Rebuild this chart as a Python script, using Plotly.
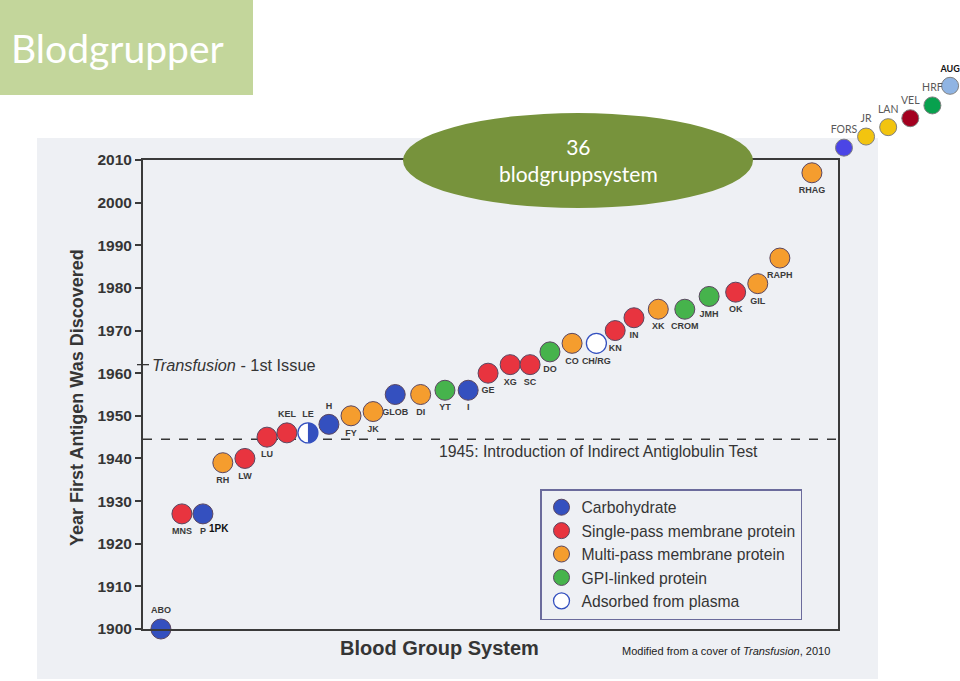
import plotly.graph_objects as go

# Blood group systems on the chart (left to right)
systems = ["ABO", "MNS", "P", "RH", "LW", "LU", "KEL", "LE", "H", "FY", "JK",
           "GLOB", "DI", "YT", "I", "GE", "XG", "SC", "DO", "CO", "CH/RG", "KN",
           "IN", "XK", "CROM", "JMH", "OK", "GIL", "RAPH", "RHAG"]
# order slot along the x axis (category units, as spaced in the picture)
slots = [0, 0.95, 1.9, 2.8, 3.8, 4.8, 5.7, 6.65, 7.6, 8.6, 9.6,
         10.6, 11.75, 12.85, 13.9, 14.8, 15.8, 16.7, 17.6, 18.6, 19.7, 20.55,
         21.4, 22.5, 23.7, 24.8, 26.0, 27.0, 28.0, 29.45]
years = [1900, 1927, 1927, 1939, 1940, 1945, 1946, 1946, 1948, 1950, 1951,
         1955, 1955, 1956, 1956, 1960, 1962, 1962, 1965, 1967, 1967, 1970,
         1973, 1975, 1975, 1978, 1979, 1981, 1987, 2007]
antigen_type = ["carb", "single", "carb", "multi", "single", "single", "single", "carb+plasma",
                "carb", "multi", "multi", "carb", "multi", "gpi", "carb", "single",
                "single", "single", "gpi", "multi", "plasma", "single", "single",
                "multi", "gpi", "gpi", "single", "multi", "multi", "multi"]
labels_above = ["ABO", "KEL", "LE", "H"]

# newer systems drawn outside the frame (top right of the slide)
new_systems = ["FORS", "JR", "LAN", "VEL", "HRF", "AUG"]
new_slots = [30.9, 31.9, 32.9, 33.9, 34.9, 35.7]
new_years = [2012.9, 2015.5, 2017.7, 2019.8, 2022.8, 2027.4]
new_colors = ["#4b45e6", "#f2c40f", "#f2c40f", "#a3001f", "#08a14e", "#8fb4e3"]

type_names = {
    "carb": "Carbohydrate",
    "single": "Single-pass membrane protein",
    "multi": "Multi-pass membrane protein",
    "gpi": "GPI-linked protein",
    "plasma": "Adsorbed from plasma",
}
type_colors = {
    "carb": "#3450bf",
    "single": "#e8343f",
    "multi": "#f59d2e",
    "gpi": "#46b34c",
    "plasma": "#ffffff",
}

W, H = 960, 681
# pixel frame of the plot area
PX_L, PX_R, PX_T, PX_B = 143, 838, 160, 629
X_RANGE = [-0.81, 30.63]
Y_RANGE = [1900, 2010]
px_per_slot = (PX_R - PX_L) / (X_RANGE[1] - X_RANGE[0])
px_per_year = (PX_B - PX_T) / (Y_RANGE[1] - Y_RANGE[0])


def px_x(px):
    return px / W


def px_y(py):
    return (H - py) / H


DARK = "#353535"
fig = go.Figure()

# one trace per antigen type -> legend
for key in ["carb", "single", "multi", "gpi", "plasma"]:
    idx = [i for i, t in enumerate(antigen_type) if t == key]
    fig.add_trace(go.Scatter(
        x=[slots[i] for i in idx],
        y=[years[i] for i in idx],
        mode="markers+text",
        text=[systems[i] for i in idx],
        textposition=["top center" if systems[i] in labels_above else "bottom center" for i in idx],
        textfont=dict(size=9, color="#3a3a3a", family="Liberation Sans", weight="bold"),
        marker=dict(size=20, color=type_colors[key],
                    line=dict(width=1.3 if key == "plasma" else 1,
                              color="#3450bf" if key == "plasma" else "#5a4660")),
        name=type_names[key],
        cliponaxis=False,
        hoverinfo="text",
    ))

# LE: half carbohydrate, half adsorbed from plasma
le = [i for i, t in enumerate(antigen_type) if t == "carb+plasma"]
fig.add_trace(go.Scatter(
    x=[slots[i] for i in le], y=[years[i] for i in le],
    mode="markers+text",
    text=[systems[i] for i in le],
    textposition="top center",
    textfont=dict(size=9, color="#3a3a3a", family="Liberation Sans", weight="bold"),
    marker=dict(size=20, color="#ffffff", line=dict(width=1.3, color="#3450bf")),
    showlegend=False, cliponaxis=False, hoverinfo="text",
))
r = 10
k = 0.5523 * r
for i in le:
    fig.add_shape(
        type="path", xref="x", yref="y", xsizemode="pixel", ysizemode="pixel",
        xanchor=slots[i], yanchor=years[i],
        path=f"M 0,{r} C {k},{r} {r},{k} {r},0 C {r},{-k} {k},{-r} 0,{-r} Z",
        fillcolor="#3450bf", line=dict(width=0), layer="above",
    )

# newer systems, on a second pair of axes with the same scale
fig.add_trace(go.Scatter(
    x=new_slots, y=new_years, xaxis="x2", yaxis="y2",
    mode="markers+text",
    text=new_systems[:-1] + ["<b>" + new_systems[-1] + "</b>"],
    textposition="top center",
    textfont=dict(size=[10.5] * 5 + [9], color=["#595959"] * 5 + ["#111111"], family="Lato"),
    marker=dict(size=17, color=new_colors, line=dict(width=1, color="#7f7f7f")),
    showlegend=False, cliponaxis=False, hoverinfo="text",
))

# 1PK next to P
p_i = systems.index("P")
fig.add_annotation(x=slots[p_i], y=years[p_i], text="<b>1PK</b>", showarrow=False,
                   xshift=16, yshift=-15, font=dict(size=10, color="#111111"))

shapes = [
    # scanned figure background
    dict(type="rect", xref="paper", yref="paper", x0=px_x(37), x1=px_x(878),
         y0=px_y(679), y1=px_y(138), fillcolor="#eef0f4", line=dict(width=0), layer="below"),
    # title box
    dict(type="rect", xref="paper", yref="paper", x0=0, x1=px_x(253),
         y0=px_y(95), y1=1, fillcolor="#c3d69b", line=dict(width=0), layer="above"),
    # 1945 dashed line
    dict(type="line", xref="x domain", yref="y", x0=0, x1=1, y0=1944.5, y1=1944.5,
         line=dict(color=DARK, width=1.3, dash="dash"), layer="below"),
    # Transfusion first issue tick
    dict(type="line", xref="paper", yref="y", x0=px_x(137), x1=px_x(149), y0=1962, y1=1962,
         line=dict(color=DARK, width=1.3)),
    # 36 blodgruppsystem ellipse
    dict(type="circle", xref="paper", yref="paper", x0=px_x(403), x1=px_x(753),
         y0=px_y(208), y1=px_y(113), fillcolor="#77933c", line=dict(width=0), layer="above"),
]
for s in shapes:
    fig.add_shape(**s)

annotations = [
    dict(x=px_x(9), y=px_y(48), xref="paper", yref="paper", xanchor="left", yanchor="middle",
         text="Blodgrupper", font=dict(family="Lato", size=39, color="#ffffff")),
    dict(x=px_x(578), y=px_y(160), xref="paper", yref="paper", xanchor="center", yanchor="middle",
         text="36<br>blodgruppsystem", font=dict(family="Lato", size=21, color="#ffffff")),
    dict(x=px_x(437), y=1944.5, xref="paper", yref="y", xanchor="left", yanchor="top", yshift=-2,
         text="1945: Introduction of Indirect Antiglobulin Test", font=dict(size=15.8, color=DARK)),
    dict(x=px_x(150), y=1962, xref="paper", yref="y", xanchor="left", yanchor="middle",
         text="<i>Transfusion</i> - 1st Issue", font=dict(size=16.3, color=DARK)),
    dict(x=px_x(77), y=px_y(398), xref="paper", yref="paper", xanchor="center", yanchor="middle",
         textangle=-90, text="<b>Year First Antigen Was Discovered</b>", font=dict(size=18, color=DARK)),
    dict(x=px_x(439), y=px_y(648), xref="paper", yref="paper", xanchor="center", yanchor="middle",
         text="<b>Blood Group System</b>", font=dict(size=20, color=DARK)),
    dict(x=px_x(726), y=px_y(651), xref="paper", yref="paper", xanchor="center", yanchor="middle",
         text="Modified from a cover of <i>Transfusion</i>, 2010", font=dict(size=11, color="#222222")),
]
for a in annotations:
    fig.add_annotation(showarrow=False, **a)

fig.update_layout(
    width=W, height=H,
    margin=dict(l=0, r=0, t=0, b=0),
    paper_bgcolor="#ffffff", plot_bgcolor="rgba(0,0,0,0)",
    font=dict(family="Liberation Sans, Arial, sans-serif", color=DARK),
    xaxis=dict(
        domain=[px_x(PX_L), px_x(PX_R)], range=X_RANGE, automargin=False,
        showgrid=False, zeroline=False, showticklabels=False, ticks="",
        showline=True, linewidth=2, linecolor="#3a3a3a", mirror=True,
    ),
    yaxis=dict(
        domain=[px_y(PX_B), px_y(PX_T)], range=Y_RANGE, automargin=False,
        tickvals=list(range(1900, 2011, 10)), showgrid=False, zeroline=False,
        ticks="outside", ticklen=6, tickwidth=2, tickcolor="#3a3a3a",
        tickfont=dict(size=15.5, color=DARK, weight="bold"),
        showline=True, linewidth=2, linecolor="#3a3a3a", mirror=True,
    ),
    # top-right area beyond the frame, same px per unit as the main axes
    xaxis2=dict(
        domain=[px_x(820), 1.0], anchor="y2", automargin=False,
        range=[X_RANGE[0] + (820 - PX_L) / px_per_slot, X_RANGE[0] + (W - PX_L) / px_per_slot],
        visible=False,
    ),
    yaxis2=dict(
        domain=[px_y(PX_T), px_y(40)], anchor="x2", automargin=False,
        range=[Y_RANGE[1], Y_RANGE[1] + (PX_T - 40) / px_per_year],
        visible=False,
    ),
    legend=dict(
        x=px_x(540), y=px_y(489), xanchor="left", yanchor="top",
        bgcolor="rgba(0,0,0,0)", bordercolor="#6b6b9c", borderwidth=1.5,
        font=dict(size=15.7, color=DARK), itemwidth=30, tracegroupgap=0,
    ),
)

fig.write_html("out.html", config={"displayModeBar": False},
               post_script="document.body.style.margin='0';")
